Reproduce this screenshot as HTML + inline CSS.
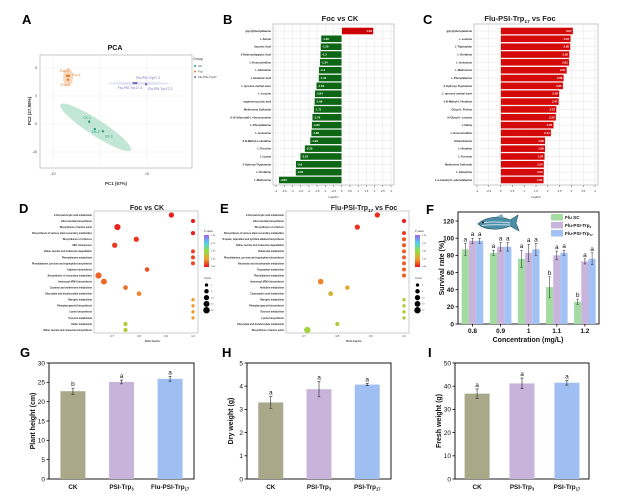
<!DOCTYPE html>
<html><head><meta charset="utf-8">
<style>
html,body{margin:0;padding:0;background:#fff;}
svg{display:block;font-family:"Liberation Sans",Arial,sans-serif;}
</style></head>
<body>
<svg id="fig" width="620" height="503" viewBox="0 0 620 503" xmlns="http://www.w3.org/2000/svg"></svg>
<script>
// ---------- DATA ----------
const pcaNames = ["Foc-1","Foc-2","Foc-3","Flu-PSI-Trp17-1","Flu-PSI-Trp17-3","Flu-PSI-Trp17-2","CK-1","CK-2","CK-3"];
const pcaX = [-6.6,-6.8,-7.0,7.7,7.2,9.8,-2.3,-1.1,0.6];
const pcaY = [3.6,2.9,3.6,2.3,2.3,2.1,-4.6,-5.9,-6.3];
const pcaGroup = ["Foc","Foc","Foc","Flu","Flu","Flu","CK","CK","CK"];
const pcaXTicks = [-10,0,10];
const pcaYTicks = [5,0,-5,-10];

const bNames = ["glycylphenylalanine","L-Serine","Itaconic Acid","3-Hydroxyhippuric Acid","L-Homocitrulline","L-Glutamine","L-Glutamic acid","L-tyrosine methyl ester","L-Leucine","argininosuccinic acid","Methionine Sulfoxide","S-(5-Adenosyl)-L-Homocysteine","L-Phenylalanine","L-Isoleucine","3-N-Methyl-L-Histidine","L-Tyrosine","L-Lysine","5-Hydroxy-Tryptamine","L-Ornithine","L-Methionine"];
const bVals = [1.93,-1.26,-1.29,-1.3,-1.34,-1.4,-1.41,-1.55,-1.64,-1.66,-1.71,-1.79,-1.83,-1.86,-1.93,-2.26,-2.53,-2.8,-2.81,-3.83];
const bTicks = [-4,-3.5,-3,-2.5,-2,-1.5,-1,-0.5,0,0.5,1,1.5,2,2.5,3];

const cNames = ["glycylphenylalanine","L-Leucine","L-Tryptophan","L-Ornithine","L-Isoleucine","L-Methionine","L-Phenylalanine","5-Hydroxy-Tryptamine","L-tyrosine methyl ester","3-N-Methyl-L-Histidine","Glycyl-L-Proline","N-Glycyl-L-Leucine","L-Valine","L-Homocitrulline","Ethanolamine","L-Histidine","L-Tyrosine","Methionine Sulfoxide","L-Glutamine","L-a-Aspartyl-L-phenylalanine"];
const cVals = [3.07,2.97,2.96,2.92,2.91,2.81,2.68,2.65,2.49,2.47,2.37,2.35,2.25,2.14,1.89,1.89,1.87,1.84,1.84,1.83];
const cTicks = [-1,-0.5,0,0.5,1,1.5,2,2.5,3,3.5,4];

const dNames = ["2-Oxocarboxylic acid metabolism","Glucosinolate biosynthesis","Biosynthesis of amino acids","Biosynthesis of various plant secondary metabolites","Biosynthesis of cofactors","ABC transporters","Valine, leucine and isoleucine degradation","Phenylalanine metabolism","Phenylalanine, tyrosine and tryptophan biosynthesis","Arginine biosynthesis","Biosynthesis of secondary metabolites","Aminoacyl-tRNA biosynthesis","Cysteine and methionine metabolism","Glyoxylate and dicarboxylate metabolism","Nitrogen metabolism","Phenylpropanoid biosynthesis","Lysine biosynthesis","Tyrosine metabolism","Sulfur metabolism","Valine, leucine and isoleucine biosynthesis"];
const dRich = [0.92,1.0,0.72,1.0,0.79,0.71,1.0,1.0,1.0,0.83,0.65,0.67,0.75,0.80,1.0,1.0,1.0,1.0,0.75,0.75];
const dCount = [10,5,16,5,10,10,4,4,4,6,16,14,7,7,2,2,2,2,5,5];
const dP = [0.02,0.02,0.03,0.02,0.06,0.07,0.08,0.08,0.09,0.1,0.14,0.15,0.16,0.2,0.24,0.24,0.24,0.24,0.42,0.42];
const dTicks = [0.7,0.8,0.9,1.0];
const dCountLegend = [2,6,10,14,18];

const eNames = ["2-Oxocarboxylic acid metabolism","Glucosinolate biosynthesis","Biosynthesis of cofactors","Biosynthesis of various plant secondary metabolites","Tropane, piperidine and pyridine alkaloid biosynthesis","Valine, leucine and isoleucine degradation","Butanoate metabolism","Phenylalanine, tyrosine and tryptophan biosynthesis","Nicotinate and nicotinamide metabolism","Tryptophan metabolism","Phenylalanine metabolism","Aminoacyl-tRNA biosynthesis","Histidine metabolism","Cyanoamino acid metabolism","Nitrogen metabolism","Phenylpropanoid biosynthesis","Tyrosine metabolism","Lysine biosynthesis","Glyoxylate and dicarboxylate metabolism","Biosynthesis of amino acids"];
const eRich = [0.92,1.0,0.86,1.0,1.0,1.0,1.0,1.0,1.0,1.0,1.0,0.75,0.83,0.78,1.0,1.0,1.0,1.0,0.80,0.71];
const eCount = [10,5,10,4,4,4,4,4,4,4,4,12,6,8,2,2,2,2,5,17];
const eP = [0.04,0.02,0.05,0.07,0.12,0.12,0.13,0.13,0.13,0.13,0.13,0.2,0.27,0.33,0.4,0.4,0.4,0.4,0.42,0.45];
const eTicks = [0.7,0.8,0.9,1.0];
const eCountLegend = [2,6,10,13,17];
const pLegendTicks = ["1.00","0.75","0.50","0.25","0.00"];

const fCats = ["0.8","0.9","1","1.1","1.2"];
const fSC = [87,83,76,43,26];
const fTrp3 = [97,90,83,80,73];
const fTrp17 = [97,90,87,83,76];
const fSCErr = [7,3,10,12,3];
const fTrp3Err = [3,5,10,5,3];
const fTrp17Err = [3,5,7,3,7];
const fSCLet = ["a","a","a","b","b"];
const fTrp3Let = ["a","a","a","a","a"];
const fTrp17Let = ["a","a","a","a","a"];
const fTicks = [0,20,40,60,80,100,120];

const gCats = ["CK","PSI-Trp3","Flu-PSI-Trp17"];
const gVals = [22.7,25.1,25.9];
const gErr = [0.8,0.5,0.6];
const gLet = ["b","a","a"];
const gTicks = [0,5,10,15,20,25,30];
const hCats = ["CK","PSI-Trp3","PSI-Trp17"];
const hVals = [3.3,3.87,4.07];
const hErr = [0.25,0.33,0.05];
const hLet = ["a","a","a"];
const hTicks = [0,1,2,3,4,5];
const iCats = ["CK","PSI-Trp3","PSI-Trp17"];
const iVals = [36.8,41.2,41.5];
const iErr = [2,2.3,1];
const iLet = ["a","a","a"];
const iTicks = [0,10,20,30,40,50];

// ---------- HELPERS ----------
const NS = "http://www.w3.org/2000/svg";
const svg = document.getElementById("fig");
function mk(tag, attrs, parent){
  const el = document.createElementNS(NS, tag);
  for (const k in attrs) el.setAttribute(k, attrs[k]);
  (parent || svg).appendChild(el);
  return el;
}
function txt(s, x, y, size, opts, parent){
  const o = Object.assign({x:x, y:y, "font-size":size, fill:"#111"}, opts||{});
  const t = mk("text", o, parent);
  t.textContent = s;
  return t;
}
function subTxt(base, sub, x, y, size, opts, parent){
  const t = txt(base, x, y, size, opts, parent);
  const ts = mk("tspan", {"font-size": size*0.65, dy: size*0.25}, t);
  ts.textContent = sub;
  return t;
}
function pColor(p){
  const stops=[[0,[232,20,28]],[0.25,[240,160,48]],[0.5,[144,224,64]],[0.75,[80,208,240]],[1,[160,96,240]]];
  for(let i=0;i<stops.length-1;i++){
    const a=stops[i],b=stops[i+1];
    if(p<=b[0]){const t=(p-a[0])/(b[0]-a[0]);
      const c=a[1].map((v,j)=>Math.round(v+(b[1][j]-v)*t));
      return "rgb("+c.join(",")+")";}
  }
  return "rgb(160,96,240)";
}
function rOf(c){ return 0.9 + Math.sqrt(c)*0.55; }
function panelLetter(s,x,y){
  const t = txt(s,x,y,13,{"font-weight":"bold",fill:"#000"});
  
  
}

// ---------- PANEL A: PCA ----------
(function(){
  const g = mk("g",{});
  
  
  panelLetter("A",22,24);
  const px = v => 100 + v*4.7;
  const py = v => 96 - v*5.6;
  const t = txt("PCA",115,50,7,{"text-anchor":"middle","font-weight":"bold"},g);
  
  
  const box = mk("rect",{x:40,y:55,width:152,height:113,fill:"#fff",stroke:"#bbb","stroke-width":0.8},g);
  
  
  pcaXTicks.forEach(v=>{
    const l = mk("line",{x1:px(v),x2:px(v),y1:55,y2:168,stroke:"#eee","stroke-width":0.6},g);
    
    
    if(v!==0){
      const tl = txt(String(v),px(v),175,3.5,{"text-anchor":"middle",fill:"#444"},g);
      
      
    }
  });
  pcaYTicks.forEach(v=>{
    const l = mk("line",{x1:40,x2:192,y1:py(v),y2:py(v),stroke:"#eee","stroke-width":0.6},g);
    
    
    const tl = txt(String(v),37,py(v)+1.2,3.5,{"text-anchor":"end",fill:"#444"},g);
    
    
  });
  const xl = txt("PC1 (67%)",116,185,4.5,{"text-anchor":"middle","font-weight":"bold",fill:"#333"},g);
  
  
  const yl = txt("PC2 (27.98%)",0,0,4.5,{"text-anchor":"middle","font-weight":"bold",fill:"#333",transform:"translate(31,111) rotate(-90)"},g);
  
  
  const groups = {CK:{c:"#1b9e77",f:"#a8dcc8",rx:42,ry:8,ang:33},Foc:{c:"#e07a2a",f:"#f6c6a0",rx:9,ry:5,ang:90},Flu:{c:"#6a6ab8",f:"#d8d8f0",rx:31,ry:1.6,ang:0}};
  Object.keys(groups).forEach(k=>{
    let sx=0,sy=0,n=0;
    pcaX.forEach((v,i)=>{ if(pcaGroup[i]===k){sx+=px(v);sy+=py(pcaY[i]);n++;} });
    const cx=sx/n, cy=sy/n, G=groups[k];
    const e = mk("ellipse",{cx:cx,cy:cy,rx:G.rx,ry:G.ry,fill:G.f,"fill-opacity":0.7,stroke:"none",transform:"rotate("+G.ang+" "+cx+" "+cy+")"},g);
    
    
  });
  pcaX.forEach((v,i)=>{
    const G = groups[pcaGroup[i]];
    const c = mk("circle",{cx:px(v),cy:py(pcaY[i]),r:1.2,fill:G.c},g);
    
    
  });
  const labOff = [[3,0],[-7,6],[-7,-4],[0,-4],[-16,6],[2,6],[-6,-3],[-3,4],[2,6]];
  pcaNames.forEach((s,i)=>{
    const G = groups[pcaGroup[i]];
    const l = txt(s,px(pcaX[i])+labOff[i][0],py(pcaY[i])+labOff[i][1],3.4,{fill:G.c},g);
    
    
  });
  const lg = txt("Group",193,60,3.6,{fill:"#333"},g);
  
  
  [["CK","#1b9e77"],["Foc","#e07a2a"],["Flu-PSI-Trp17","#6a6ab8"]].forEach((d,i)=>{
    const c = mk("circle",{cx:195,cy:66+i*5.5,r:1,fill:d[1]},g);
    
    
    const l = txt(d[0],198,67.2+i*5.5,3,{fill:"#333"},g);
    
    
  });
})();

// ---------- PANELS B & C: bar charts ----------
function hbar(names, vals, ticks, x0, x1, color, letter, lx){
  const g = mk("g",{});
  
  
  panelLetter(letter,lx,24);
  const tmin=ticks[0], tmax=ticks[ticks.length-1];
  const sx = v => x0 + (v - tmin)/(tmax - tmin)*(x1 - x0);
  const top=24, bot=185, rowY = i => 31 + i*(149/19);
  const bg = mk("rect",{x:x0-3,y:top,width:(x1-x0)+6,height:bot-top,fill:"#fff",stroke:"#bbb","stroke-width":0.8},g);
  
  
  ticks.forEach(v=>{
    const l = mk("line",{x1:sx(v),x2:sx(v),y1:top,y2:bot,stroke:"#e4e4e4","stroke-width":0.5},g);
    
    
    const tk = mk("line",{x1:sx(v),x2:sx(v),y1:bot,y2:bot+2,stroke:"#555","stroke-width":0.5},g);
    
    
    const tl = txt(String(v),sx(v),192,2.8,{"text-anchor":"middle",fill:"#333"},g);
    
    
  });
  const xt = txt("Log2FC",(x0+x1)/2,198,2.8,{"text-anchor":"middle",fill:"#333"},g);
  
  
  names.forEach((n,i)=>{
    const y = rowY(i);
    const gl = mk("line",{x1:x0-3,x2:x1+3,y1:y,y2:y,stroke:"#e4e4e4","stroke-width":0.5},g);
    
    
    const v = vals[i];
    const xa = Math.min(sx(0), sx(v)), w = Math.abs(sx(v)-sx(0));
    const c = color(v);
    const r = mk("rect",{x:xa,y:y-3.5,width:w,height:7,fill:c,stroke:"#ffffff","stroke-width":0.4},g);
    
    
    const vt = txt(String(v), v>=0? sx(v)-1.5 : sx(v)+1.5, y+1, 2.8, {"text-anchor": v>=0?"end":"start", fill:"#fff","font-weight":"bold"},g);
    
    
    const lt = txt(n, x0-5, y+1, 2.7, {"text-anchor":"end", fill:"#222","font-weight":"bold"},g);
    
    
  });
  return g;
}
hbar(bNames,bVals,bTicks,276,391,v => v>=0 ? "#cc0000" : "#0c6614",'B',223);
(function(){
  const t = txt("Foc vs CK",340,21,7.5,{"text-anchor":"middle","font-weight":"bold",fill:"#222"});
  
  
})();
hbar(cNames,cVals,cTicks,477,595,v => "#d40a0a",'C',423);
(function(){
  const t = subTxt("Flu-PSI-Trp","17",520,21,7.5,{"text-anchor":"middle","font-weight":"bold",fill:"#222"});
  const ts = mk("tspan",{dy:-1.9},t);
  ts.textContent = " vs Foc";
  
  
})();

// ---------- PANELS D & E: bubble ----------
function bubble(names, rich, counts, ps, ticks, x0, x1, letter, lx, legX, countLeg){
  const g = mk("g",{});
  
  
  panelLetter(letter,lx,213);
  const sx = v => x0 + (v - ticks[0])/(ticks[ticks.length-1]-ticks[0])*(x1-x0);
  const top=211,bot=333, rowY = i => 215 + i*(115/19);
  const bx = mk("rect",{x:x0-18,y:top,width:(x1-x0)+23,height:bot-top,fill:"#fff",stroke:"#aaa","stroke-width":0.6},g);
  
  
  ticks.forEach(v=>{
    const tl = txt(v.toFixed(1),sx(v),337,2.6,{"text-anchor":"middle",fill:"#333"},g);
    
    
  });
  const xt = txt("Rich Factor",(x0+x1)/2,342,2.8,{"text-anchor":"middle",fill:"#333","font-weight":"bold"},g);
  
  
  names.forEach((n,i)=>{
    const y=rowY(i);
    const lt = txt(n, x0-20, y+0.9, 2.4, {"text-anchor":"end",fill:"#222","font-weight":"bold"},g);
    
    
    const c = mk("circle",{cx:sx(rich[i]),cy:y,r:rOf(counts[i]),fill:pColor(ps[i])},g);
    
    
  });
  const pt = txt("P-value",legX,232,2.6,{fill:"#333"},g);
  
  
  const gid = "grad"+letter;
  const defs = mk("defs",{},g);
  const lg = mk("linearGradient",{id:gid,x1:0,y1:1,x2:0,y2:0},defs);
  [0,0.25,0.5,0.75,1].forEach(p=>mk("stop",{offset:p,"stop-color":pColor(p)},lg));
  const cb = mk("rect",{x:legX,y:235,width:5,height:32,fill:"url(#"+gid+")"},g);
  
  
  pLegendTicks.forEach((s,i)=>{
    const tl = txt(s,legX+7,236+i*7.8,2.2,{fill:"#333"},g);
    
    
  });
  const ct = txt("Count",legX,279,2.6,{fill:"#333"},g);
  
  
  countLeg.forEach((c,i)=>{
    const y = 285 + i*6.3;
    const cc = mk("circle",{cx:legX+2.5,cy:y,r:rOf(c),fill:"#000"},g);
    
    
    const tl = txt(String(c),legX+7,y+0.8,2.2,{fill:"#333"},g);
    
    
  });
}
bubble(dNames,dRich,dCount,dP,dTicks,112,193,'D',19,204,dCountLegend);
(function(){
  const t = txt("Foc vs CK",147,210,7,{"text-anchor":"middle","font-weight":"bold",fill:"#222"});
  
  
})();
bubble(eNames,eRich,eCount,eP,eTicks,304,404,'E',220,415,eCountLegend);
(function(){
  const t = subTxt("Flu-PSI-Trp","17",364,210,7,{"text-anchor":"middle","font-weight":"bold",fill:"#222"});
  const ts = mk("tspan",{dy:-1.75},t);
  ts.textContent = " vs Foc";
  
  
})();

// ---------- PANEL F ----------
(function(){
  const g = mk("g",{});
  
  
  panelLetter("F",426,214);
  const X0=458,X1=599,Y0=324,Ytop=212;
  const sy = v => Y0 - v*0.858;
  const cx = i => 472.5 + i*28.1;
  const bw = 7.2;
  const ax = mk("rect",{x:X0,y:Ytop,width:X1-X0,height:Y0-Ytop,fill:"none",stroke:"#000","stroke-width":0.9},g);
  
  
  fTicks.forEach(v=>{
    const tk = mk("line",{x1:X0-2.5,x2:X0,y1:sy(v),y2:sy(v),stroke:"#000","stroke-width":0.8},g);
    
    
    const tl = txt(String(v),X0-4,sy(v)+2.3,6.5,{"text-anchor":"end","font-weight":"bold"},g);
    
    
  });
  const yl = txt("Survival rate (%)",0,0,7,{"text-anchor":"middle","font-weight":"bold",transform:"translate(444,268) rotate(-90)"},g);
  
  
  const series=[[fSC,fSCErr,fSCLet,"#a3dba0","flu-sc"],[fTrp3,fTrp3Err,fTrp3Let,"#c8b4dc","flu-psi-trp3"],[fTrp17,fTrp17Err,fTrp17Let,"#a2c2f5","flu-psi-trp17"]];
  fCats.forEach((c,i)=>{
    series.forEach((s,j)=>{
      const x = cx(i) + (j-1.5)*bw;
      const v = s[0][i], e = s[1][i];
      const r = mk("rect",{x:x,y:sy(v),width:bw,height:Y0-sy(v),fill:s[3]},g);
      
      
      const m = x+bw/2;
      const eb = mk("path",{d:"M"+m+" "+sy(v+e)+"V"+sy(v-e)+"M"+(m-1.2)+" "+sy(v+e)+"H"+(m+1.2)+"M"+(m-1.2)+" "+sy(v-e)+"H"+(m+1.2),stroke:"#222","stroke-width":0.5,fill:"none"},g);
      
      
      const lt = txt(s[2][i],m,sy(v+e)-2,6.5,{"text-anchor":"middle"},g);
      
      
    });
    const tk = mk("line",{x1:cx(i),x2:cx(i),y1:Y0,y2:Y0+2.5,stroke:"#000","stroke-width":0.8},g);
    
    
    const tl = txt(c,cx(i),333,6.5,{"text-anchor":"middle","font-weight":"bold"},g);
    
    
  });
  const xl = txt("Concentration (mg/L)",528,342,7,{"text-anchor":"middle","font-weight":"bold"},g);
  
  
  [["Flu SC","","#a3dba0"],["Flu-PSI-Trp","3","#c8b4dc"],["Flu-PSI-Trp","17","#a2c2f5"]].forEach((d,i)=>{
    const y = 214 + i*8;
    const b = mk("rect",{x:551,y:y,width:12,height:6.5,fill:d[2]},g);
    
    
    const t = d[1] ? subTxt(d[0],d[1],565,y+5,4.6,{"font-weight":"bold"},g) : txt(d[0],565,y+5,4.6,{"font-weight":"bold"},g);
    
    
  });
  const fish = mk("g",{transform:"translate(476,214)"},g);
  
  
  mk("path",{d:"M2 10 C8 3 24 1 34 6 L42 1 L40 9 L43 17 L34 12 C24 17 8 16 2 10 Z",fill:"#4a8fa8",stroke:"#2b5060","stroke-width":0.6},fish);
  mk("path",{d:"M6 9 C16 7 26 8 34 9 M6 11.5 C16 10 26 11 34 11",stroke:"#dfe8ef","stroke-width":0.9,fill:"none"},fish);
  mk("path",{d:"M20 3 L26 0 L28 4 Z",fill:"#7fb0c2"},fish);
  mk("circle",{cx:7,cy:8.5,r:1,fill:"#111"},fish);
})();

// ---------- PANELS G, H, I ----------
function vbar(cats, vals, errs, lets, ticks, X0, X1, letter, lx, ytitle, key){
  const g = mk("g",{});
  
  
  panelLetter(letter,lx,357);
  const Ytop=363, Y0=479, tmax=ticks[ticks.length-1];
  const sy = v => Y0 - v/tmax*(Y0-Ytop);
  const w = X1-X0, cx = i => X0 + w*(0.165 + i*0.335);
  const colors=["#a9a98a","#c8b4da","#9fbff2"];
  const fr = mk("rect",{x:X0,y:Ytop,width:w,height:Y0-Ytop,fill:"none",stroke:"#000","stroke-width":0.9},g);
  
  
  ticks.forEach(v=>{
    const tk = mk("line",{x1:X0-2.5,x2:X0,y1:sy(v),y2:sy(v),stroke:"#000","stroke-width":0.8},g);
    
    
    const tl = txt(String(v),X0-4,sy(v)+2.3,6.5,{"text-anchor":"end"},g);
    
    
  });
  const yl = txt(ytitle,0,0,7,{"text-anchor":"middle","font-weight":"bold",transform:"translate("+(X0-14)+",421) rotate(-90)"},g);
  
  
  cats.forEach((c,i)=>{
    const v=vals[i], e=errs[i], m=cx(i), bw=25;
    const r = mk("rect",{x:m-bw/2,y:sy(v),width:bw,height:Y0-sy(v),fill:colors[i]},g);
    
    
    const eb = mk("path",{d:"M"+m+" "+sy(v+e)+"V"+sy(v-e)+"M"+(m-1.5)+" "+sy(v+e)+"H"+(m+1.5)+"M"+(m-1.5)+" "+sy(v-e)+"H"+(m+1.5),stroke:"#222","stroke-width":0.6,fill:"none"},g);
    
    
    const lt = txt(lets[i],m,sy(v+e)-2,6.5,{"text-anchor":"middle"},g);
    
    
    const m2 = c.match(/^(.*Trp)(\d+)$/);
    const tl = m2 ? subTxt(m2[1],m2[2],m,489,6.3,{"text-anchor":"middle","font-weight":"bold"},g) : txt(c,m,489,6.3,{"text-anchor":"middle","font-weight":"bold"},g);
    
    
  });
}
vbar(gCats,gVals,gErr,gLet,gTicks,49,194,'G',20,"Plant height (cm)","plant-height");
vbar(hCats,hVals,hErr,hLet,hTicks,247,391,'H',222,"Dry weight (g)","dry-weight");
vbar(iCats,iVals,iErr,iLet,iTicks,455,589,'I',428,"Fresh weight (g)","fresh-weight");
</script>
</body></html>
